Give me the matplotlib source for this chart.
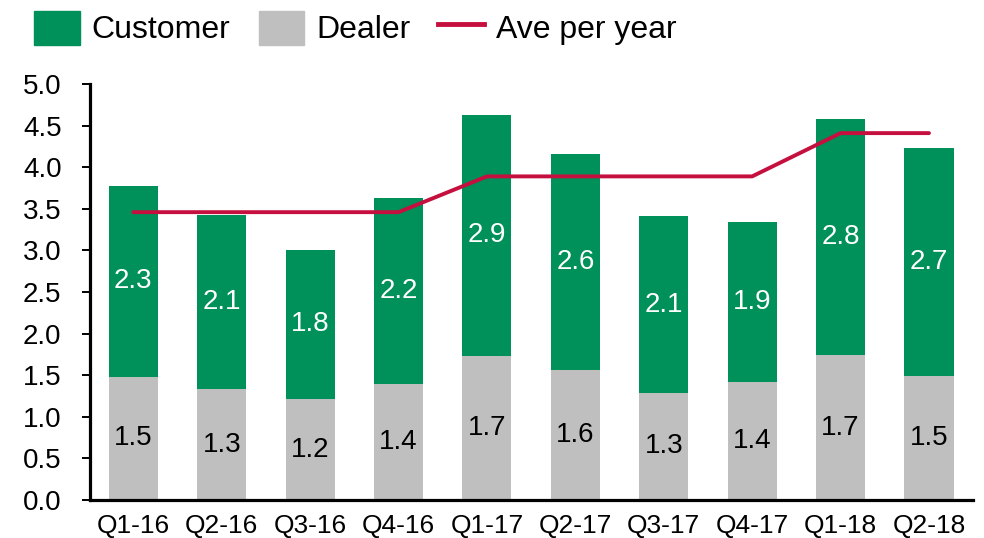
import numpy as np
import matplotlib.pyplot as plt
from matplotlib.patches import Patch
from matplotlib.lines import Line2D

plt.rcParams['font.family'] = ['Liberation Sans', 'DejaVu Sans']

quarters = ['Q1-16', 'Q2-16', 'Q3-16', 'Q4-16', 'Q1-17', 'Q2-17', 'Q3-17', 'Q4-17', 'Q1-18', 'Q2-18']
dealer = [1.48, 1.33, 1.21, 1.39, 1.73, 1.56, 1.29, 1.42, 1.74, 1.49]
customer = [2.30, 2.10, 1.80, 2.24, 2.90, 2.60, 2.12, 1.92, 2.84, 2.74]
dealer_labels = ['1.5', '1.3', '1.2', '1.4', '1.7', '1.6', '1.3', '1.4', '1.7', '1.5']
customer_labels = ['2.3', '2.1', '1.8', '2.2', '2.9', '2.6', '2.1', '1.9', '2.8', '2.7']
ave_per_year = [3.46, 3.46, 3.46, 3.46, 3.89, 3.89, 3.89, 3.89, 4.41, 4.41]

green = '#009059'
grey = '#BFBFBF'
red = '#C5103F'

fig = plt.figure(figsize=(9.84, 5.38), dpi=100)
ax = fig.add_axes([0.0915, 0.0706, 0.8975, 0.7732])

x = np.arange(len(quarters))
w = 0.555
ax.bar(x, dealer, w, color=grey, zorder=2)
ax.bar(x, customer, w, bottom=dealer, color=green, zorder=2)
ax.plot(x, ave_per_year, color=red, lw=2.8, solid_capstyle='round', zorder=3)

for i in range(len(quarters)):
    ax.text(x[i], dealer[i] / 2, dealer_labels[i], ha='center', va='center', fontsize=20, color='black', zorder=4)
    ax.text(x[i], dealer[i] + customer[i] / 2, customer_labels[i], ha='center', va='center', fontsize=20, color='white', zorder=4)

ax.set_xlim(-0.49, 9.5)
ax.set_ylim(0, 5)
ax.set_yticks(np.arange(0, 5.01, 0.5))
ax.set_yticklabels([f'{v:.1f}' for v in np.arange(0, 5.01, 0.5)])
ax.set_xticks(x)
ax.set_xticklabels(quarters)
ax.tick_params(axis='y', labelsize=20, length=5.5, width=1.4, direction='out', pad=15)
ax.tick_params(axis='x', labelsize=19, length=0, pad=10)
for s in ['top', 'right']:
    ax.spines[s].set_visible(False)
for s in ['left', 'bottom']:
    ax.spines[s].set_linewidth(2.3)

handles = [Patch(color=green), Patch(color=grey), Line2D([0], [0], color=red, lw=3.5)]
fig.legend(handles, ['Customer', 'Dealer', 'Ave per year'], loc='upper left', bbox_to_anchor=(0.012, 1.022),
           ncol=3, frameon=False, fontsize=23, handlelength=1.42, handleheight=1.26,
           handletextpad=0.38, columnspacing=0.88, borderpad=0.2)

fig.savefig('out.png', dpi=100)
